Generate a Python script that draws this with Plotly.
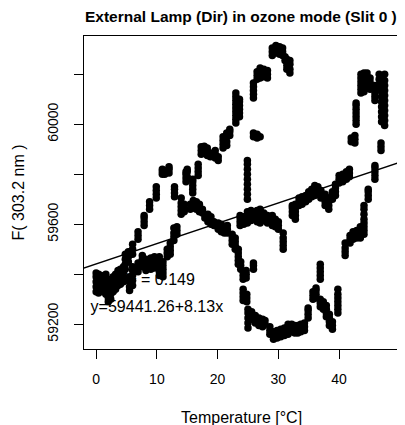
import plotly.graph_objects as go

# ---- data ----
# each run: one temperature with the F(303.2 nm) readings observed at it
run_temperature = [
    0.0, 0.4, 0.8, 1.2, 1.6, 2.0, 2.4, 2.8, 3.2, 3.6, 4.0, 4.5, 4.8, 5.3, 6.0, 6.9, 7.9, 8.8, 9.9,
    10.9, 11.3, 12.0, 12.9, 14.8, 15.0, 15.9, 16.8, 17.3, 17.8, 18.3, 18.8, 19.6, 20.1, 20.9, 21.5,
    22.0, 23.0, 23.6, 25.9, 26.5, 27.0, 27.6, 28.2, 29.0, 29.6, 30.2, 30.7, 31.1, 31.4, 31.9,
    24.9, 25.9, 26.5, 27.0,
    15.5, 16.0, 16.5, 17.0, 17.5, 17.9, 18.4, 18.9, 19.4, 20.1, 20.6, 21.1, 21.6, 22.4, 22.9,
    23.4, 23.8, 24.2, 24.7, 25.9, 24.2, 24.8, 25.0, 25.6, 26.2, 26.8, 27.4, 27.8, 28.6, 29.2,
    29.8, 30.4, 31.0, 31.6, 32.2, 32.7, 33.2, 33.7, 34.3, 34.9, 35.7, 36.2, 36.9, 36.9, 37.4,
    37.9, 38.4, 38.9, 39.8, 41.0, 41.8, 42.3, 42.9, 43.5, 44.1, 44.8, 45.9, 46.9,
    23.7, 24.3, 24.9, 25.5, 26.5, 27.0, 27.6, 28.2, 29.0, 29.5, 30.0, 30.8, 32.3, 32.8, 33.4,
    33.9, 34.5, 35.0, 35.5, 36.0, 36.5, 37.0, 37.7, 38.3, 38.9, 39.4, 40.0, 40.6, 41.2, 41.7,
    42.0, 42.6, 42.8, 43.6, 44.1, 44.6, 45.1, 45.9, 46.6, 47.0, 47.5,
    5.5, 6.0, 6.9, 7.6, 8.2, 9.0, 9.6, 10.4, 11.0, 11.7, 12.2, 12.8, 13.3, 14.0, 14.5,
]
run_flux = [
    [59330, 59350, 59370, 59390, 59405], [59325, 59345, 59365, 59385, 59400],
    [59335, 59355, 59375, 59395], [59330, 59350, 59370, 59390], [59320, 59340, 59360, 59380, 59400],
    [59290, 59305, 59325, 59345, 59365], [59300, 59320, 59340, 59360, 59380],
    [59330, 59350, 59370, 59390], [59340, 59360, 59380, 59400], [59355, 59375, 59395, 59415],
    [59360, 59380, 59400, 59420], [59370, 59390, 59410, 59430], [59420, 59440, 59460, 59480],
    [59450, 59470, 59490], [59480, 59500, 59520], [59540, 59555, 59570],
    [59595, 59610, 59625, 59635], [59660, 59675, 59690], [59705, 59720, 59735, 59750],
    [59800, 59810, 59820], [59800, 59815], [59805, 59820, 59830], [59710, 59725, 59740, 59750],
    [59770, 59785, 59800, 59810], [59790, 59810, 59820], [59725, 59740, 59755, 59770, 59780],
    [59795, 59810, 59825, 59840], [59880, 59895, 59910], [59885, 59900, 59912],
    [59875, 59890, 59905], [59870, 59885], [59865, 59880, 59895], [59855, 59870],
    [59905, 59920, 59935, 59950], [59915, 59930, 59950, 59965], [59955, 59970, 59980],
    [60005, 60020, 60035, 60050, 60065, 60080, 60095, 60110, 60125],
    [60030, 60045, 60060, 60075, 60090, 60100], [60105, 60120, 60135, 60150, 60165],
    [60180, 60195, 60210], [60185, 60200, 60215, 60225], [60190, 60205, 60220],
    [60185, 60200, 60215], [60275, 60290, 60305], [60285, 60300, 60315], [60280, 60295, 60310],
    [60275, 60290, 60305], [60255, 60270], [60220, 60235, 60250, 60260],
    [60205, 60220, 60240, 60255],
    [59700, 59720, 59740, 59760, 59780, 59800, 59820, 59840, 59855], [59950, 59965],
    [59945, 59960], [59950],
    [59660, 59680], [59665, 59685, 59695], [59660, 59675, 59690], [59650, 59665, 59680],
    [59645, 59660], [59625, 59640], [59610, 59625, 59640], [59600, 59615, 59630],
    [59595, 59610], [59580, 59595, 59605], [59570, 59585, 59600], [59565, 59580],
    [59565, 59580, 59595], [59520, 59535, 59550, 59560], [59500, 59515, 59530, 59545],
    [59440, 59455, 59470, 59485, 59500], [59420, 59435, 59450], [59380, 59395, 59410],
    [59385, 59400, 59415], [59420, 59435, 59445], [59295, 59310, 59325, 59340],
    [59290, 59305, 59320], [59185, 59205, 59225, 59245, 59260], [59220, 59235, 59250],
    [59205, 59220, 59235], [59195, 59210, 59225], [59190, 59205, 59220], [59200, 59215],
    [59160, 59175, 59190], [59140, 59155, 59170], [59145, 59160, 59175], [59150, 59165, 59180],
    [59155, 59170, 59185], [59160, 59175, 59190, 59200], [59170, 59185, 59200],
    [59165, 59180, 59195], [59165, 59180, 59195], [59170, 59185, 59200], [59175, 59190, 59205],
    [59225, 59240, 59255, 59265], [59300, 59315, 59330], [59305, 59320, 59335, 59345],
    [59380, 59395, 59410, 59425, 59440], [59270, 59285, 59300], [59260, 59275, 59290],
    [59230, 59245, 59260, 59275], [59195, 59210, 59225, 59240], [59180, 59195, 59210],
    [59245, 59260, 59275, 59290, 59305, 59320, 59340], [59475, 59490, 59505, 59525],
    [59525, 59540, 59555], [59540, 59555, 59570], [59545, 59560, 59575],
    [59545, 59560, 59575, 59590], [59560, 59575, 59590, 59605, 59620, 59640, 59660, 59675],
    [59700, 59715, 59730, 59740], [59780, 59795, 59810, 59825, 59835], [59895, 59910, 59925],
    [59595, 59610, 59625, 59635], [59600, 59615, 59630], [59605, 59620, 59635, 59650],
    [59615, 59630, 59645, 59655], [59610, 59625, 59640, 59655],
    [59605, 59620, 59635, 59650, 59660], [59615, 59630, 59645], [59605, 59620, 59635],
    [59595, 59610, 59625, 59635], [59590, 59605, 59620], [59580, 59595, 59610],
    [59500, 59515, 59530, 59545, 59565], [59635, 59650, 59665, 59675],
    [59620, 59635, 59650, 59665, 59680], [59675, 59690, 59705], [59680, 59695, 59710],
    [59690, 59705, 59715], [59700, 59715, 59730], [59710, 59725, 59740],
    [59715, 59730, 59745, 59755], [59720, 59735, 59750], [59705, 59720, 59735],
    [59675, 59690, 59705, 59720], [59660, 59675, 59690, 59705], [59700, 59715, 59730],
    [59715, 59730, 59745, 59760], [59765, 59780, 59795], [59770, 59785, 59800],
    [59780, 59795, 59810], [59790, 59805, 59820],
    [59930, 59945], [59925, 59940, 59955], [60000, 60015, 60030, 60045, 60060, 60075, 60085],
    [60125, 60140, 60155, 60170, 60185, 60200], [60130, 60150, 60170, 60190, 60205],
    [60160, 60175, 60190, 60205], [60140, 60155, 60170, 60185], [60095, 60110, 60125, 60140, 60155],
    [60140, 60160, 60180, 60200],
    [60010, 60030, 60050, 60070, 60090, 60110, 60130, 60150, 60170, 60190],
    [59995, 60015, 60035, 60055, 60075, 60095, 60115, 60135, 60155, 60175, 60200],
    [59335, 59350, 59370, 59390], [59355, 59375, 59395, 59415, 59430], [59410, 59425, 59445],
    [59430, 59445, 59460, 59475], [59415, 59430, 59445, 59460], [59420, 59435, 59450, 59465],
    [59425, 59440, 59455, 59470], [59395, 59410, 59425, 59440, 59455, 59470],
    [59390, 59405, 59420, 59435, 59450], [59470, 59485, 59500], [59480, 59495, 59510, 59525],
    [59535, 59550, 59565, 59585], [59560, 59575, 59590], [59640, 59655, 59670, 59685, 59705],
    [59650, 59665, 59680],
]

fit_intercept = 59441.26
fit_slope = 8.13
fit_r2 = 0.149

x_ticks = [0, 10, 20, 30, 40]
y_label_ticks = [59200, 59600, 60000]
y_label_text = ["59200", "59600", "60000"]
y_tick_step = 200

title_text = "External Lamp (Dir) in ozone mode (Slit 0 )"
x_title = "Temperature [°C]"
y_title = "F( 303.2 nm )"

# ---- build ----
temperature = []
flux = []
for t, fs in zip(run_temperature, run_flux):
    for f in fs:
        temperature.append(t)
        flux.append(f)

X_RANGE = [-2.0, 49.7]
Y_RANGE = [59101, 60353]
FONT = "Liberation Sans, Arial, Helvetica, sans-serif"

line_x = [X_RANGE[0] - 5, X_RANGE[1] + 5]
line_y = [fit_intercept + fit_slope * v for v in line_x]

fig = go.Figure()
fig.add_trace(go.Scatter(
    x=[10, 10], y=[59372, 59266], mode="text",
    text=["R<sup>2</sup> = %.3f" % fit_r2, "y=%.2f+%.2fx" % (fit_intercept, fit_slope)],
    textposition="middle center",
    textfont=dict(family=FONT, size=16, color="black"),
    hoverinfo="skip", showlegend=False,
))
fig.add_trace(go.Scatter(
    x=temperature, y=flux, mode="markers",
    marker=dict(color="black", size=7.5, line=dict(width=0)),
    showlegend=False,
))
fig.add_trace(go.Scatter(
    x=line_x, y=line_y, mode="lines",
    line=dict(color="black", width=1.3),
    showlegend=False, hoverinfo="skip",
))

# the page body adds an 8px offset; size the figure so absolute positions match
OFF = 8
W, H = 405 - OFF, 425 - OFF
PL, PR, PT, PB = 84, 398, 36, 349          # plot box in window pixels
L, T = PL - OFF, PT - OFF
R, B = (405 - PR), (425 - PB)
pw, ph = PR - PL, PB - PT

fig.update_layout(
    width=W, height=H,
    margin=dict(l=L, r=R, t=T, b=B, pad=0),
    paper_bgcolor="white", plot_bgcolor="white",
    font=dict(family=FONT, size=16, color="black"),
    showlegend=False,
    xaxis=dict(
        range=X_RANGE, tickvals=x_ticks, ticks="outside", ticklen=9, tickwidth=1,
        tickcolor="black", showline=True, mirror=True, linecolor="black", linewidth=1,
        showgrid=False, zeroline=False, tickfont=dict(size=14, color="black"),
        ticklabelstandoff=8,
    ),
    yaxis=dict(
        range=Y_RANGE, tickvals=y_label_ticks, ticktext=y_label_text, ticks="outside",
        ticklen=9, tickwidth=1, tickcolor="black", showline=True, mirror=True,
        linecolor="black", linewidth=1, showgrid=False, zeroline=False, tickangle=-90,
        tickfont=dict(size=14, color="black"), ticklabelstandoff=10,
        minor=dict(ticks="outside", ticklen=9, tickwidth=1, tickcolor="black",
                   tick0=y_label_ticks[0], dtick=y_tick_step, showgrid=False),
    ),
    annotations=[
        dict(text="<b>%s</b>" % title_text, xref="paper", yref="paper", x=0.5,
             y=1 + (PT - 16) / ph, xanchor="center", yanchor="middle", showarrow=False,
             font=dict(family=FONT, size=15.5, color="black")),
        dict(text=x_title, xref="paper", yref="paper", x=0.5, y=-(417 - PB) / ph,
             xanchor="center", yanchor="middle", showarrow=False,
             font=dict(family=FONT, size=16, color="black")),
        dict(text=y_title, xref="paper", yref="paper", x=-(PL - 18) / pw, y=0.5,
             xanchor="center", yanchor="middle", showarrow=False, textangle=-90,
             font=dict(family=FONT, size=16, color="black")),
    ],
)

fig.write_html("out.html")
